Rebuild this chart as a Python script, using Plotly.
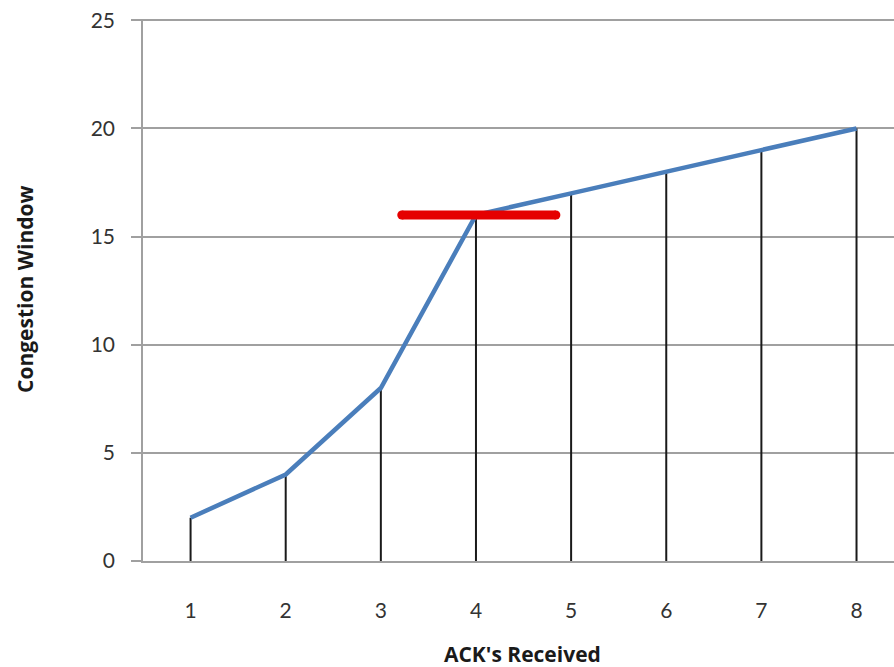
import plotly.graph_objects as go

acks = [1, 2, 3, 4, 5, 6, 7, 8]
cwnd = [2, 4, 8, 16, 17, 18, 19, 20]
threshold_x = [3.22, 4.84]
threshold_y = [16, 16]
y_ticks = [0, 5, 10, 15, 20, 25]

# drop lines built from data
drop_x, drop_y = [], []
for a, c in zip(acks, cwnd):
    drop_x += [a, a, None]
    drop_y += [0, c, None]

fig = go.Figure()
fig.add_trace(go.Scatter(x=drop_x, y=drop_y, mode="lines",
                         line=dict(color="#1a1a1a", width=2), hoverinfo="skip"))
fig.add_trace(go.Scatter(x=acks, y=cwnd, mode="lines",
                         line=dict(color="#4a7ebb", width=4.5)))
fig.add_trace(go.Scatter(x=threshold_x, y=threshold_y, mode="lines+markers",
                         line=dict(color="#e50000", width=9),
                         marker=dict(color="#e50000", size=9, line=dict(width=0))))

font = "Lato, 'Open Sans', sans-serif"
tfont = "'Open Sans', Lato, sans-serif"
fig.update_layout(
    width=894, height=667,
    margin=dict(l=143, r=0, t=19, b=106),
    paper_bgcolor="white", plot_bgcolor="white",
    showlegend=False,
    xaxis=dict(range=[0.5, 8.394], tickvals=acks, ticktext=[str(a) for a in acks],
               showgrid=False, zeroline=False, showline=True, linecolor="#a0a0a0",
               linewidth=1.5,
               ticks="", ticklabelstandoff=30,
               tickfont=dict(family=font, size=21, color="#333333")),
    yaxis=dict(range=[0, 25.06], tickvals=y_ticks, showgrid=True, gridcolor="#a0a0a0",
               gridwidth=1.5, zeroline=False, showline=True, linecolor="#a0a0a0",
               linewidth=1.5, ticks="outside", ticklen=10, tickcolor="#a0a0a0",
               tickwidth=1.5, ticklabelstandoff=12,
               tickfont=dict(family=font, size=21, color="#333333")),
    annotations=[
        dict(text="<b>ACK's Received</b>", x=522, y=654, xref="paper", yref="paper",
             showarrow=False, font=dict(family=tfont, size=21, color="#1a1a1a")),
        dict(text="<b>Congestion Window</b>", x=25, y=290, xref="paper", yref="paper",
             showarrow=False, textangle=-90, font=dict(family=tfont, size=21, color="#1a1a1a")),
    ],
)
pw = 894 - 143
ph = 667 - 19 - 106
for ann in fig.layout.annotations:
    px, py = ann.x, ann.y
    ann.x = (px - 143) / pw
    ann.y = (667 - 106 - py) / ph
    ann.xanchor = "center"
    ann.yanchor = "middle"

fig.write_html("out.html", config={"displayModeBar": False},
               post_script="document.body.style.margin='0';document.body.style.padding='0';document.body.style.overflow='hidden';")
